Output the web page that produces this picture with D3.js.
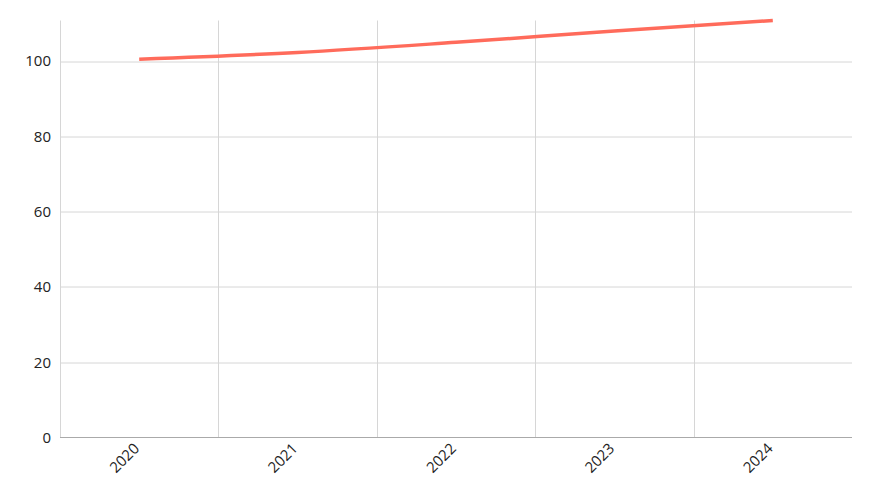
<!DOCTYPE html>
<html>
<head>
<meta charset="utf-8">
<script src="https://cdn.jsdelivr.net/npm/d3@7"></script>
<style>
  body { margin: 0; background: #fff; }
  svg text { font-family: 'Open Sans', 'Noto Sans', sans-serif; fill: #222; }
</style>
</head>
<body>
<svg width="873" height="500"></svg>
<script>
const years = ['2020', '2021', '2022', '2023', '2024']
const values = [100.5, 102.3, 105.0, 108.0, 110.8]
const yTicks = [0, 20, 40, 60, 80, 100]

let svg = d3.select('svg')
let margin = { top: 20.5, right: 21, bottom: 62.5, left: 60 }
let width = +svg.attr('width') - margin.left - margin.right
let height = +svg.attr('height') - margin.top - margin.bottom

let g = svg.append('g')
  .attr('transform', 'translate(' + margin.left + ',' + margin.top + ')')

let x = d3.scaleBand().domain(years).range([0, width])
let y = d3.scaleLinear().domain([0, d3.max(values)]).range([height, 0])

// horizontal grid
g.append('g')
  .selectAll('line')
  .data(yTicks.filter(d => d > 0))
  .enter().append('line')
  .attr('x1', 0).attr('x2', width)
  .attr('y1', d => Math.round(y(d)) + 0.5).attr('y2', d => Math.round(y(d)) + 0.5)
  .attr('stroke', '#d6d6d6')

// vertical grid at band boundaries
g.append('g')
  .selectAll('line')
  .data(years.slice(1))
  .enter().append('line')
  .attr('x1', d => Math.round(x(d)) + 0.5).attr('x2', d => Math.round(x(d)) + 0.5)
  .attr('y1', 0).attr('y2', height)
  .attr('stroke', '#d6d6d6')

// left edge line
g.append('line')
  .attr('x1', 0.5).attr('x2', 0.5).attr('y1', 0).attr('y2', height)
  .attr('stroke', '#d6d6d6')

// x axis baseline
g.append('line')
  .attr('x1', 0).attr('x2', width)
  .attr('y1', height).attr('y2', height)
  .attr('stroke', '#aaa')

// y tick labels
g.append('g')
  .call(d3.axisLeft(y).tickValues(yTicks).tickSize(0).tickPadding(9))
  .call(a => a.select('.domain').remove())
  .selectAll('text')
  .style('font-size', '15px')

// x tick labels
g.append('g')
  .attr('transform', 'translate(0,' + height + ')')
  .call(d3.axisBottom(x).tickSize(0))
  .call(a => a.select('.domain').remove())
  .selectAll('text')
  .style('font-size', '15px')
  .attr('text-anchor', 'end')
  .attr('dy', null)
  .attr('y', 0)
  .attr('transform', 'translate(1,12) rotate(-45)')

// line
g.append('path')
  .datum(values)
  .attr('fill', 'none')
  .attr('stroke', '#ff6b5b')
  .attr('stroke-width', 3.5)
  .attr('d', d3.line()
    .x((d, i) => x(years[i]) + x.bandwidth() / 2)
    .y(d => y(d))
    .curve(d3.curveMonotoneX))
</script>
</body>
</html>
